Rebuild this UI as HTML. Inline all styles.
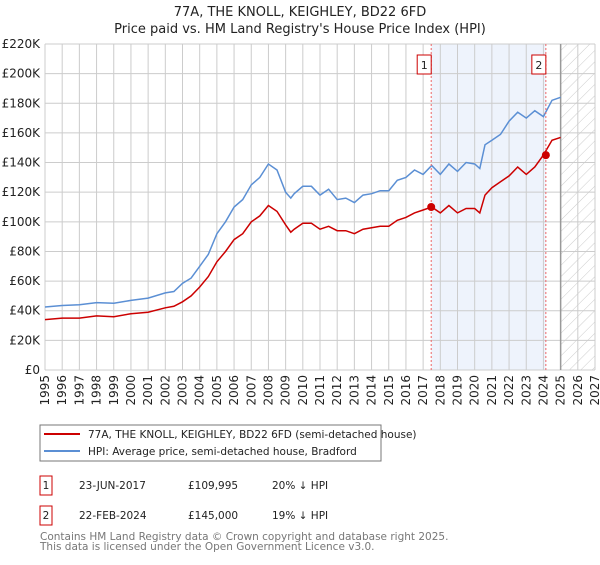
<!DOCTYPE html>
<html><head><meta charset="utf-8"><style>
body{margin:0;width:600px;height:560px;background:#fff;font-family:"Liberation Sans","DejaVu Sans",sans-serif;overflow:hidden}
svg text{font-family:"DejaVu Sans","Liberation Sans",sans-serif}
</style></head><body>
<svg id="c" width="600" height="560" xmlns="http://www.w3.org/2000/svg">
<defs><pattern id="h" width="8" height="8" patternUnits="userSpaceOnUse" patternTransform="rotate(45)"><line x1="0" y1="0" x2="0" y2="8" stroke="#ccc" stroke-width="1"/></pattern></defs>
<text x="300" y="16" text-anchor="middle" font-size="13" fill="#222">77A, THE KNOLL, KEIGHLEY, BD22 6FD</text>
<text x="300" y="33" text-anchor="middle" font-size="13" fill="#222">Price paid vs. HM Land Registry's House Price Index (HPI)</text>
<g id="grid"></g><g id="series"></g>
<g>
<rect x="40" y="425" width="341" height="36" fill="#fff" stroke="#777"/>
<line x1="44" y1="434" x2="80" y2="434" stroke="#cc0000" stroke-width="2"/>
<text x="88" y="438" font-size="10.5" fill="#222">77A, THE KNOLL, KEIGHLEY, BD22 6FD (semi-detached house)</text>
<line x1="44" y1="451" x2="80" y2="451" stroke="#5b8fd4" stroke-width="2"/>
<text x="88" y="455" font-size="10.5" fill="#222">HPI: Average price, semi-detached house, Bradford</text>
</g>
<g font-size="10.5" fill="#222">
<rect x="40" y="476" width="12" height="19" fill="#fff" stroke="#cc0000"/><text x="46" y="489" text-anchor="middle">1</text>
<text x="79" y="489">23-JUN-2017</text><text x="188" y="489">£109,995</text><text x="272" y="489">20% ↓ HPI</text>
<rect x="40" y="506" width="12" height="19" fill="#fff" stroke="#cc0000"/><text x="46" y="519" text-anchor="middle">2</text>
<text x="79" y="519">22-FEB-2024</text><text x="188" y="519">£145,000</text><text x="272" y="519">19% ↓ HPI</text>
</g>
<text x="40" y="540" font-size="10.5" fill="#777">Contains HM Land Registry data © Crown copyright and database right 2025.</text>
<text x="40" y="550" font-size="10.5" fill="#777">This data is licensed under the Open Government Licence v3.0.</text>
</svg>
<script>
const yTicks=[0,20,40,60,80,100,120,140,160,180,200,220];
const years=[1995,1996,1997,1998,1999,2000,2001,2002,2003,2004,2005,2006,2007,2008,2009,2010,2011,2012,2013,2014,2015,2016,2017,2018,2019,2020,2021,2022,2023,2024,2025,2026,2027];
const hpiT=[1995,1996,1997,1998,1999,2000,2001,2002,2002.5,2003,2003.5,2004,2004.5,2005,2005.5,2006,2006.5,2007,2007.5,2008,2008.5,2009,2009.3,2009.5,2010,2010.5,2011,2011.5,2012,2012.5,2013,2013.5,2014,2014.5,2015,2015.5,2016,2016.5,2017,2017.5,2018,2018.5,2019,2019.5,2020,2020.3,2020.6,2021,2021.5,2022,2022.5,2023,2023.5,2024,2024.5,2025];
const hpiV=[42.5,43.5,44,45.5,45,47,48.5,52,53,58.5,62,70,78,92,100,110,115,125,130,139,135,120,116,119,124,124,118,122,115,116,113,118,119,121,121,128,130,135,132,138,132,139,134,140,139,136,152,155,159,168,174,170,175,171,182,184];
const ppV=[34,35,35,36.5,36,38,39,42,43,46,50,56,63,73,80,88,92,100,104,111,107,98,93,95,99,99,95,97,94,94,92,95,96,97,97,101,103,106,108,110,106,111,106,109,109,106,118,123,127,131,137,132,137,145,155,157];
const sales=[[2017.47,109.995],[2024.14,145]];
const X=t=>45+(t-1995)*(550/32), Y=v=>370-v*(326/220);
const ns="http://www.w3.org/2000/svg";
function mk(tag,a,p){const e=document.createElementNS(ns,tag);for(const k in a)e.setAttribute(k,a[k]);p.appendChild(e);return e;}
const g=document.getElementById('grid'), s=document.getElementById('series');
mk('rect',{x:X(sales[0][0]),y:44,width:X(sales[1][0])-X(sales[0][0]),height:326,fill:'#eef3fc'},g);
mk('rect',{x:X(2025),y:44,width:X(2027)-X(2025),height:326,fill:'url(#h)'},g);
yTicks.forEach(v=>{const l=mk('line',{x1:45,x2:595,y1:Y(v),y2:Y(v),stroke:'#ccc'},g);


const t=mk('text',{x:40,y:Y(v)+4,'text-anchor':'end','font-size':12,fill:'#222'},g);t.textContent=v===0?'£0':'£'+v+'K';

});
years.forEach(y=>{mk('line',{x1:X(y),x2:X(y),y1:44,y2:370,stroke:'#ccc'},g);
const t=mk('text',{transform:`translate(${X(y)+4},375) rotate(-90)`,'text-anchor':'end','font-size':12,fill:'#222'},g);t.textContent=y;

});
mk('line',{x1:X(2025),x2:X(2025),y1:44,y2:370,stroke:'#999','stroke-width':1.5},g);
function path(v,c,n){const p=mk('path',{d:hpiT.map((t,i)=>(i?'L':'M')+X(t).toFixed(1)+','+Y(v[i]).toFixed(1)).join(''),fill:'none',stroke:c,'stroke-width':1.5},s);

}
path(hpiV,'#5b8fd4','hpi-line');path(ppV,'#cc0000','price-paid-line');
sales.forEach((d,i)=>{mk('line',{x1:X(d[0]),x2:X(d[0]),y1:44,y2:370,stroke:'#e66','stroke-dasharray':'2,2'},s);
const c=mk('circle',{cx:X(d[0]),cy:Y(d[1]),r:4,fill:'#cc0000'},s);


mk('rect',{x:X(d[0])-14,y:55,width:14,height:19,fill:'#fff',stroke:'#cc0000'},s);
const t=mk('text',{x:X(d[0])-7,y:69,'text-anchor':'middle','font-size':11,fill:'#222'},s);t.textContent=i+1;

});
</script>
</body></html>
